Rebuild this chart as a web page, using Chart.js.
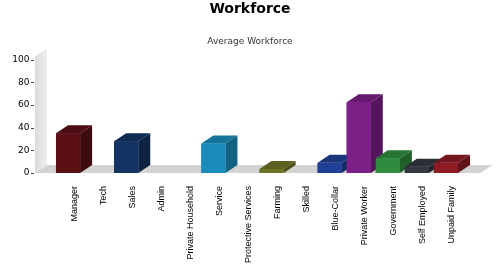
<!DOCTYPE html>
<html>
<head>
<meta charset="utf-8">
<script src="https://cdn.jsdelivr.net/npm/chart.js@4"></script>
<style>
  html, body { margin: 0; padding: 0; background: #fff; }
  #wrap { width: 500px; height: 280px; }
</style>
</head>
<body>
<div id="wrap"><canvas id="barChart" width="500" height="280"></canvas></div>
<script>
// categories and values
const categories = ['Manager', 'Tech', 'Sales', 'Admin', 'Private Household', 'Service',
    'Protective Services', 'Farming', 'Skilled', 'Blue-Collar', 'Private Worker',
    'Government', 'Self Employed', 'Unpaid Family'];
const workforce = [35, 0, 28, 0, 0, 26, 0, 3.5, 0, 9, 62.5, 13, 5.5, 9];
const yTicks = [0, 20, 40, 60, 80, 100];

// front / top / side colour of every box
const frontColors = ['#5b1016', '#777777', '#133463', '#777777', '#777777', '#1b8bb9',
    '#777777', '#6f7526', '#777777', '#213f94', '#7b2086', '#2f8c3f', '#33373f', '#8e1b24'];
const topColors = ['#4d0d12', '#666666', '#0f2b52', '#666666', '#666666', '#16739a',
    '#666666', '#5c6120', '#666666', '#1b347a', '#661a70', '#277434', '#2a2e35', '#76161e'];
const sideColors = ['#3e0a0e', '#555555', '#0c2344', '#555555', '#555555', '#136283',
    '#555555', '#4b501a', '#555555', '#162b66', '#54155c', '#20602b', '#22252b', '#621219'];

const DX = 12; // depth to the right
const DY = 8;  // depth upwards
const WALL_X = 35; // front left corner

// back wall and floor, drawn before the boxes
const wallPlugin = {
    id: 'wall',
    beforeDatasetsDraw(chart) {
        const ctx = chart.ctx;
        const a = chart.chartArea;
        const yScale = chart.scales.y;
        const top = yScale.getPixelForValue(100);
        const base = yScale.getPixelForValue(0);
        ctx.save();
        // left wall
        const g = ctx.createLinearGradient(WALL_X, 0, WALL_X + DX, 0);
        g.addColorStop(0, '#dadada');
        g.addColorStop(1, '#efefef');
        ctx.fillStyle = g;
        ctx.beginPath();
        ctx.moveTo(WALL_X, top - 3);
        ctx.lineTo(WALL_X + DX, top - 3 - DY);
        ctx.lineTo(WALL_X + DX, base - DY);
        ctx.lineTo(WALL_X, base);
        ctx.closePath();
        ctx.fill();
        // floor
        ctx.fillStyle = '#d3d3d3';
        ctx.beginPath();
        ctx.moveTo(WALL_X, base);
        ctx.lineTo(WALL_X + DX, base - DY);
        ctx.lineTo(a.right + 20 + DX, base - DY);
        ctx.lineTo(a.right + 20, base);
        ctx.closePath();
        ctx.fill();
        // small y tick marks at the front corner
        ctx.strokeStyle = '#444';
        ctx.lineWidth = 1;
        yTicks.forEach(v => {
            const py = Math.round(yScale.getPixelForValue(v)) + 0.5;
            ctx.beginPath();
            ctx.moveTo(WALL_X - 4, py);
            ctx.lineTo(WALL_X - 1, py);
            ctx.stroke();
        });
        ctx.restore();
    }
};

// 3d boxes: top, side, then front again so the next box covers the side
const boxPlugin = {
    id: 'boxes',
    afterDatasetsDraw(chart) {
        const ctx = chart.ctx;
        const meta = chart.getDatasetMeta(0);
        ctx.save();
        meta.data.forEach((bar, i) => {
            if (!workforce[i]) return;
            const p = bar.getProps(['x', 'y', 'base', 'width'], true);
            const l = p.x - p.width / 2;
            const r = p.x + p.width / 2;
            // top
            ctx.fillStyle = topColors[i];
            ctx.beginPath();
            ctx.moveTo(l, p.y);
            ctx.lineTo(l + DX, p.y - DY);
            ctx.lineTo(r + DX, p.y - DY);
            ctx.lineTo(r, p.y);
            ctx.closePath();
            ctx.fill();
            // side
            ctx.fillStyle = sideColors[i];
            ctx.beginPath();
            ctx.moveTo(r, p.y);
            ctx.lineTo(r + DX, p.y - DY);
            ctx.lineTo(r + DX, p.base - DY);
            ctx.lineTo(r, p.base);
            ctx.closePath();
            ctx.fill();
            // front
            ctx.fillStyle = frontColors[i];
            ctx.fillRect(l, p.y, p.width, p.base - p.y);
        });
        ctx.restore();
    }
};

const ctx = document.getElementById('barChart').getContext('2d');
const chart = new Chart(ctx, {
    type: 'bar',
    data: {
        labels: categories,
        datasets: [{
            label: 'Average Workforce',
            data: workforce,
            backgroundColor: frontColors,
            borderWidth: 0,
            categoryPercentage: 1,
            barPercentage: 0.83
        }]
    },
    plugins: [wallPlugin, boxPlugin],
    options: {
        responsive: false,
        animation: false,
        devicePixelRatio: 1,
        layout: {
            padding: 0
        },
        plugins: {
            legend: { display: false },
            tooltip: { enabled: false },
            title: {
                display: true,
                text: 'Workforce',
                color: '#000',
                font: { family: 'DejaVu Sans', size: 14, weight: 'bold' },
                padding: { top: 1, bottom: 18 }
            },
            subtitle: {
                display: true,
                text: 'Average Workforce',
                color: '#333',
                font: { family: 'DejaVu Sans', size: 9 },
                padding: { top: 0, bottom: 13 }
            }
        },
        scales: {
            x: {
                grid: { display: false, drawTicks: false },
                border: { display: false },
                ticks: {
                    autoSkip: false,
                    minRotation: 90,
                    maxRotation: 90,
                    labelOffset: 6,
                    padding: 13,
                    color: '#000',
                    font: { family: 'Liberation Sans', size: 9 }
                },
                afterFit(scale) { scale.height = 107; }
            },
            y: {
                min: 0,
                max: 100,
                grid: { display: false, drawTicks: false },
                border: { display: false },
                ticks: {
                    stepSize: 20,
                    padding: 24,
                    color: '#000',
                    font: { family: 'DejaVu Sans', size: 9 }
                },
                afterFit(scale) { scale.width = 53.5; }
            },
            // empty axis on the right, only keeps room for the 3d depth and floor
            yRight: {
                position: 'right',
                min: 0,
                max: 100,
                grid: { display: false, drawTicks: false },
                border: { display: false },
                ticks: { display: false },
                afterFit(scale) { scale.width = 39.5; }
            }
        }
    }
});
</script>
</body>
</html>
